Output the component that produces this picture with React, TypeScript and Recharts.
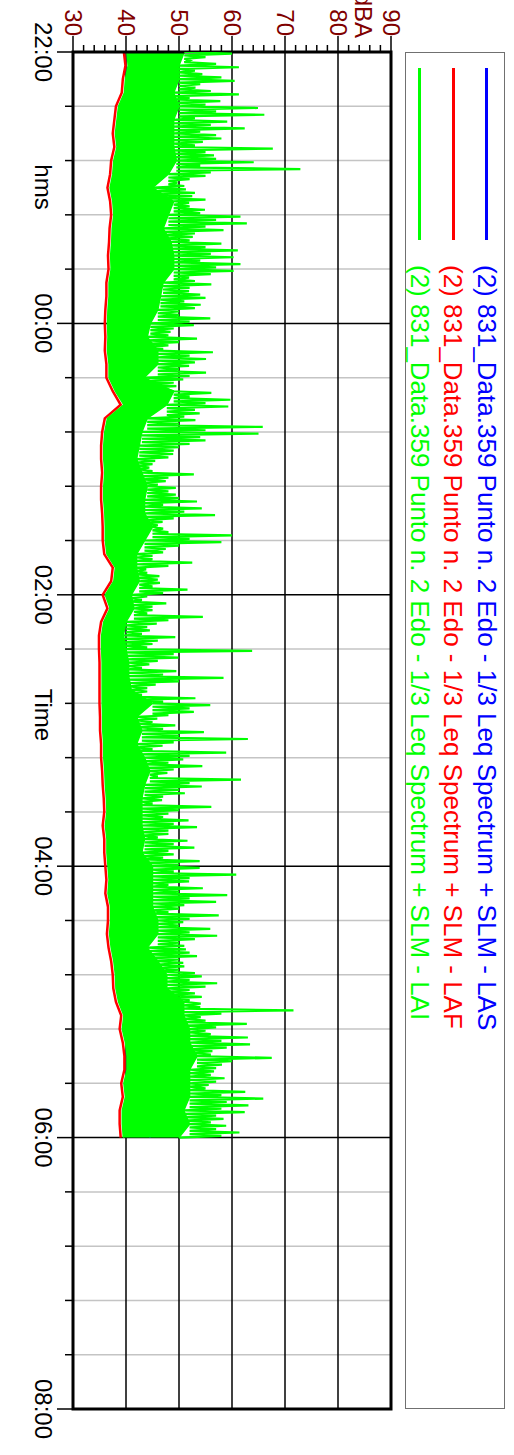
import { ComposedChart, Line, Area, XAxis, YAxis, CartesianGrid, ReferenceArea } from "recharts";

// landscape chart, rotated 90deg clockwise onto the portrait page
const W = 1455;
const H = 514;

// LAF minimum edge (red), one value every 6 minutes from 22:00
const lafMin = [
  39.6, 39.9, 39.4, 39.2, 38.1, 37.8, 37.5, 37.8, 37.2, 37.0, 36.5, 37.0, 37.2, 36.9, 36.8, 36.6,
  36.7, 36.3, 36.3, 36.1, 36.0, 36.1, 36.0, 36.3, 36.3, 37.5, 39.0, 36.0, 35.5, 35.3, 35.3, 35.5,
  35.3, 35.3, 35.5, 35.6, 35.6, 35.9, 37.5, 37.2, 35.6, 36.5, 35.3, 34.9, 34.9, 35.0, 35.0, 35.0,
  35.0, 35.1, 35.1, 35.3, 35.3, 35.5, 35.6, 35.8, 35.9, 35.6, 35.9, 35.9, 36.1, 36.3, 36.1, 36.6,
  36.6, 36.4, 36.7, 37.2, 37.5, 37.6, 38.1, 39.1, 38.8, 39.4, 39.7, 39.7, 39.1, 39.4, 38.8, 38.8,
  39.0,
];

// LAI (green) lower edge and dense body top, every 6 minutes
const laiLow = [
  40.2, 40.4, 39.9, 39.7, 38.6, 38.3, 38.0, 38.3, 37.7, 37.5, 37.0, 37.5, 37.7, 37.4, 37.3, 37.1,
  37.2, 36.8, 36.8, 36.6, 36.5, 36.6, 36.5, 36.8, 36.8, 38.0, 39.6, 36.5, 36.0, 35.8, 35.8, 36.0,
  35.8, 35.8, 36.0, 36.1, 36.1, 36.4, 38.0, 37.7, 36.1, 37.0, 35.8, 35.4, 35.4, 35.5, 35.5, 35.5,
  35.5, 35.6, 35.6, 35.8, 35.8, 36.0, 36.1, 36.3, 36.4, 36.1, 36.4, 36.4, 36.6, 36.8, 36.6, 37.1,
  37.1, 36.9, 37.2, 37.7, 38.0, 38.1, 38.6, 39.6, 39.3, 39.9, 40.2, 40.2, 39.6, 39.9, 39.3, 39.3,
  39.5,
];

const laiBody = [
  51, 50, 50, 49, 50, 49, 49, 49, 49.5, 48, 45, 49, 48, 47, 48.5, 49,
  49, 47, 46.5, 46, 44.6, 44, 46, 46, 43.4, 49, 47.7, 44, 43, 42.5, 42, 43,
  44, 43.5, 43.5, 45, 43.5, 42, 42, 42.5, 41, 41.5, 40, 39.5, 40, 40.5, 40.5, 41,
  45, 42, 43, 42, 43.5, 44.5, 43.5, 43, 43, 43, 43.5, 43, 45, 45, 45, 45,
  46, 46, 44, 46, 47.7, 47.7, 50.9, 50.9, 52, 52, 53.4, 52, 52, 52, 50.9, 52,
  50,
];

// LAI tallest peak in each 3 minute slot
const laiPeaks = [
  60.0, 52, 61.3, 54.4, 60.5, 53.1, 61.3, 57.8, 64.9, 66.1, 59.1, 62.4, 57.0, 54.5, 67.7, 56.6,
  64.1, 72.9, 55.0, 49.7, 51.3, 52.5, 51.9, 54.9, 61.6, 62.8, 58.4, 52.6, 58.0, 61.1, 60.3, 61.6,
  60.3, 51.9, 56.1, 51.9, 55.0, 54.1, 50.0, 55.9, 52.8, 48.4, 53.4, 48, 56.4, 55.1, 51.9, 55.1,
  50.8, 49.5, 56.1, 59.7, 59.3, 53.9, 53.1, 65.8, 65.0, 55.0, 50, 48.9, 45.5, 44.4, 52.8, 47.5,
  49.4, 49.4, 53.4, 54.3, 56.8, 46.9, 47, 60, 58, 47.5, 45, 52.5, 43.8, 46.3, 46.4, 51.6,
  44, 47.6, 45, 54.5, 45.8, 44.5, 49.3, 45, 63.8, 49.9, 44.4, 49.5, 58.4, 45.6, 44, 53.1,
  55.9, 52.8, 45.9, 49.3, 54.7, 63, 46.9, 58.9, 50.8, 54.4, 47.8, 61.7, 54.3, 51.1, 46.8, 56.1,
  48, 51.8, 53.4, 48, 51.6, 52.9, 49, 53.9, 53.9, 60.8, 51.9, 54.5, 59.1, 57, 50, 57.5,
  50.8, 55.9, 57.2, 50, 51.3, 53.4, 50.8, 50, 54.3, 57.2, 52, 54.3, 54.1, 71.6, 54.1, 62.8,
  55, 63, 63.4, 56.3, 67.5, 58.1, 56.6, 58.6, 55.6, 62.5, 65.9, 63.1, 62.4, 58.4, 58.9, 61.4,
];

// LAI second, smaller peak in each 3 minute slot
const laiPeaks2 = [
  55, 57, 53, 58, 54, 56, 52, 55, 57, 53, 56, 54, 58, 53, 55, 57,
  54, 56, 52, 51, 53, 55, 52, 54, 57, 55, 53, 52, 55, 56, 54, 57,
  56, 53, 52, 54, 51, 53, 50, 52, 49, 48, 50, 47, 52, 53, 50, 52,
  49, 48, 52, 55, 53, 51, 50, 55, 54, 52, 49, 48, 45, 45, 48, 46,
  48, 50, 47, 51, 49, 46, 48, 52, 50, 47, 45, 48, 44, 46, 45, 47,
  43, 45, 44, 48, 44, 43, 46, 44, 49, 46, 43, 47, 50, 44, 43, 47,
  52, 48, 45, 47, 50, 49, 45, 52, 48, 49, 46, 52, 50, 47, 45, 50,
  47, 49, 48, 46, 49, 48, 47, 50, 49, 52, 48, 50, 52, 51, 48, 52,
  50, 52, 53, 51, 52, 50, 51, 53, 52, 55, 53, 52, 54, 58, 55, 57,
  56, 58, 59, 56, 60, 57, 56, 57, 55, 58, 59, 58, 57, 56, 57, 58,
];

// LAS (blue), every 12 minutes, sits under the green
const lasLevel = [
  45, 44.5, 44, 43.5, 43.5, 41.5, 43, 43, 43, 42, 40.5, 41, 40, 43, 38.5, 37.8,
  38.5, 38.5, 38.5, 38.9, 37.3, 36.8, 36.2, 36.5, 38, 38, 38.5, 38.5, 38.4, 38.6, 39.5, 39.5,
  41.5, 40.5, 42.5, 44.5, 45.5, 46.5, 45.5, 45, 44.5,
];

const timeTicks = [0, 24, 48, 72, 96, 120, 144, 168, 192, 216, 240, 264, 288, 312, 336, 360, 384, 408, 432, 456, 480, 504, 528, 552, 576, 600];
const majorTimes = [0, 120, 240, 360, 480, 600];
const minorTimes = [24, 48, 72, 96, 144, 168, 192, 216, 264, 288, 312, 336, 384, 408, 432, 456, 504, 528, 552, 576];
const timeLabels = ["22:00", "00:00", "02:00", "04:00", "06:00", "08:00"];
const dbTicks = [30, 32, 34, 36, 38, 40, 42, 44, 46, 48, 50, 52, 54, 56, 58, 60, 62, 64, 66, 68, 70, 72, 74, 76, 78, 80, 82, 84, 86, 88, 90];
const dbGrid = [40, 50, 60, 70, 80];

const legendItems = [
  { name: "(2) 831_Data.359 Punto n. 2 Edo - 1/3 Leq Spectrum + SLM - LAS", color: "#0000ff" },
  { name: "(2) 831_Data.359 Punto n. 2 Edo - 1/3 Leq Spectrum + SLM - LAF", color: "#ff0000" },
  { name: "(2) 831_Data.359 Punto n. 2 Edo - 1/3 Leq Spectrum + SLM - LAI", color: "#00ff00" },
];

const FONT = "'Liberation Sans', Arial, sans-serif";

const blueData = lasLevel.map((v, k) => ({ t: k * 12, v }));
const redData = lafMin.map((v, j) => ({ t: j * 6, v }));
const bandData = laiLow.map((lo, j) => ({ t: j * 6, lo, hi: laiBody[j] }));
const spikeData = laiPeaks
  .flatMap((p, i) => {
    const base = laiBody[Math.floor(i / 2)];
    return [
      { t: i * 3, v: base },
      { t: i * 3 + 0.75, v: p },
      { t: i * 3 + 1.5, v: base },
      { t: i * 3 + 2.25, v: laiPeaks2[i] },
    ];
  })
  .concat({ t: 480, v: laiBody[80] });

function TimeTick({ x, y, payload }: any) {
  const idx = majorTimes.indexOf(payload.value);
  const major = idx >= 0;
  return (
    <g>
      <line x1={x} y1={y} x2={x} y2={y + (major ? 16 : 8)} stroke="#000" strokeWidth={1.5} />
      {major && (
        <text x={x} y={y + 38} textAnchor="middle" fontSize={24} fontFamily={FONT} fill="#000">
          {timeLabels[idx]}
        </text>
      )}
    </g>
  );
}

function DbTick({ x, y, payload }: any) {
  const major = payload.value % 10 === 0;
  return (
    <g>
      <line x1={x - (major ? 16 : 7)} y1={y} x2={x} y2={y} stroke="#000" strokeWidth={1.5} />
      {major && (
        <text x={x - 16} y={y} dy={8.5} textAnchor="end" fontSize={24} fontFamily={FONT} fill="#800000">
          {payload.value}
        </text>
      )}
    </g>
  );
}

export default function App() {
  return (
    <>
      <style>{"body{margin:0;overflow:hidden;background:#fff}"}</style>
      <div
        style={{
          position: "absolute",
          left: 0,
          top: 0,
          width: W,
          height: H,
          transformOrigin: "0 0",
          transform: `translateX(${H}px) rotate(90deg)`,
          background: "#fff",
          fontFamily: FONT,
        }}
      >
        <ComposedChart width={W} height={H} margin={{ top: 123, right: 46, bottom: 0, left: 0 }}>
          <CartesianGrid horizontal={false} verticalValues={minorTimes} stroke="#c4c4c4" strokeWidth={1.5} />
          <CartesianGrid horizontalValues={dbGrid} verticalValues={majorTimes} stroke="#000" strokeWidth={1.5} />
          <XAxis
            type="number"
            dataKey="t"
            domain={[0, 600]}
            ticks={timeTicks}
            interval={0}
            tick={<TimeTick />}
            tickLine={false}
            axisLine={false}
            tickSize={0}
            tickMargin={0}
            height={73}
            allowDataOverflow
          />
          <YAxis
            type="number"
            domain={[30, 90]}
            ticks={dbTicks}
            interval={0}
            tick={<DbTick />}
            tickLine={false}
            axisLine={false}
            tickSize={0}
            tickMargin={0}
            width={52}
            allowDataOverflow
          />
          <Area data={blueData} dataKey="v" type="linear" stroke="#0000ff" strokeWidth={1.5} fill="none" isAnimationActive={false} />
          <Area data={redData} dataKey="v" type="linear" stroke="#ff0000" strokeWidth={2.5} fill="none" isAnimationActive={false} />
          <Area
            data={bandData}
            dataKey={(d: any) => [d.lo, d.hi]}
            type="linear"
            stroke="#00ff00"
            strokeWidth={1.5}
            fill="#00ff00"
            fillOpacity={1}
            isAnimationActive={false}
          />
          <Line data={spikeData} dataKey="v" type="linear" stroke="#00ff00" strokeWidth={2.2} dot={false} isAnimationActive={false} />
          <ReferenceArea x1={0} x2={600} y1={30} y2={90} fill="none" fillOpacity={0} stroke="#000" strokeWidth={3} />
        </ComposedChart>

        <svg width={W} height={H} style={{ position: "absolute", left: 0, top: 0, pointerEvents: "none" }}>
          <text x={38} y={159} textAnchor="end" fontSize={24} fontFamily={FONT} fill="#800000">
            dBA
          </text>
          <text x={187} y={479} textAnchor="middle" fontSize={24} fontFamily={FONT} fill="#000">
            hms
          </text>
          <text x={715} y={479} textAnchor="middle" fontSize={24} fontFamily={FONT} fill="#000">
            Time
          </text>
        </svg>

        <div
          style={{
            position: "absolute",
            left: 52,
            top: 9,
            width: 1357,
            height: 100,
            boxSizing: "border-box",
            border: "1.5px solid #707070",
          }}
        >
          {legendItems.map((item, i) => (
            <div key={item.name} style={{ position: "absolute", left: 0, top: 17 + i * 33.5, width: "100%" }}>
              <div style={{ position: "absolute", left: 15, top: -1.5, width: 172, height: 3, background: item.color }} />
              <span
                style={{
                  position: "absolute",
                  left: 212,
                  top: -15,
                  fontSize: 26,
                  lineHeight: "30px",
                  color: item.color,
                  whiteSpace: "nowrap",
                }}
              >
                {item.name}
              </span>
            </div>
          ))}
        </div>
      </div>
    </>
  );
}
